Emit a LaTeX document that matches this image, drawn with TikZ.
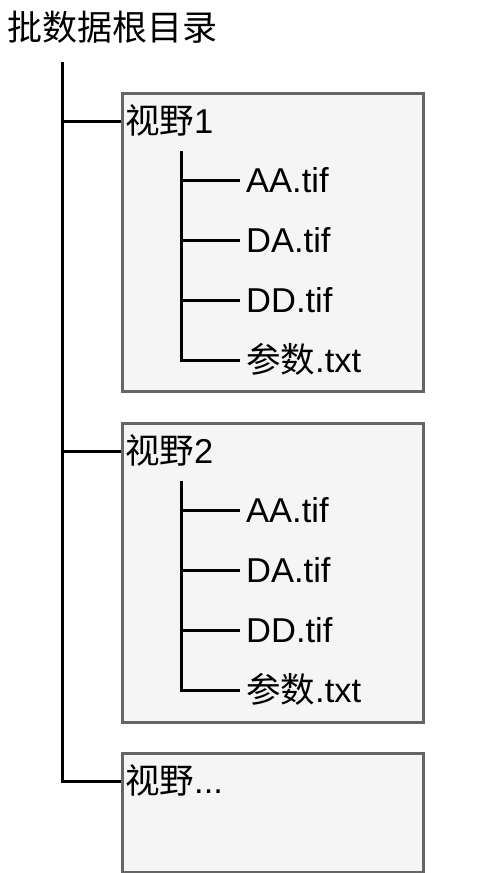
\documentclass[tikz,border=0pt]{standalone}
\usepackage{fontspec}
\setmainfont{Liberation Sans}
\newfontfamily\cjk{Noto Sans CJK SC}
\usetikzlibrary{positioning}
\definecolor{boxgray}{HTML}{666666}
\definecolor{boxfill}{HTML}{F5F5F5}
\tikzstyle{viewbox} = [draw=boxgray, fill=boxfill, line width=3pt, rectangle, anchor=north west, inner sep=0pt, minimum width=301pt]
\tikzstyle{dirtext} = [anchor=west, inner xsep=4pt, inner ysep=0pt, text height=25pt, text depth=0pt, font=\fontsize{34.5}{40}\selectfont]
\tikzstyle{filetext} = [anchor=west, inner xsep=6pt, inner ysep=0pt, text height=25pt, text depth=0pt, font=\fontsize{34.5}{40}\selectfont]
\tikzstyle{branch} = [draw=black, line width=3pt]

\begin{document}
\begin{tikzpicture}[x=1pt, y=-1pt]
\useasboundingbox (0,0) rectangle (480,873);
\node[anchor=west, inner sep=0pt, text height=25pt, text depth=0pt, font=\fontsize{35}{42}\selectfont] (title) at (7,28) {\cjk 批数据根目录};
\coordinate (root) at (62,62);

% boxes
\node[viewbox, minimum height=298pt] (box1) at (121,92) {};
\node[viewbox, minimum height=299pt] (box2) at (121,422) {};
\node[viewbox, minimum height=119pt] (box3) at (121,752) {};

\node[dirtext] (lab1) at (121,121) {{\cjk 视野}1};
\node[dirtext] (lab2) at (121,451) {{\cjk 视野}2};
\node[dirtext] (lab3) at (121,781) {{\cjk 视野}...};
\draw[branch] (root) |- (lab1.west);
\draw[branch] (root) |- (lab2.west);
\draw[branch] (root) |- (lab3.west);

% files
\coordinate (sub1) at (181,151);
\coordinate (sub2) at (181,481);
\foreach \name [count=\i] in {AA.tif, DA.tif, DD.tif, {{\cjk 参数}.txt}} {
  \node[filetext] (a\i) at (240,{120+60*\i}) {\name};
  \draw[branch] (sub1) |- (a\i.west);
  \node[filetext] (b\i) at (240,{450+60*\i}) {\name};
  \draw[branch] (sub2) |- (b\i.west);
}
\end{tikzpicture}
\end{document}
